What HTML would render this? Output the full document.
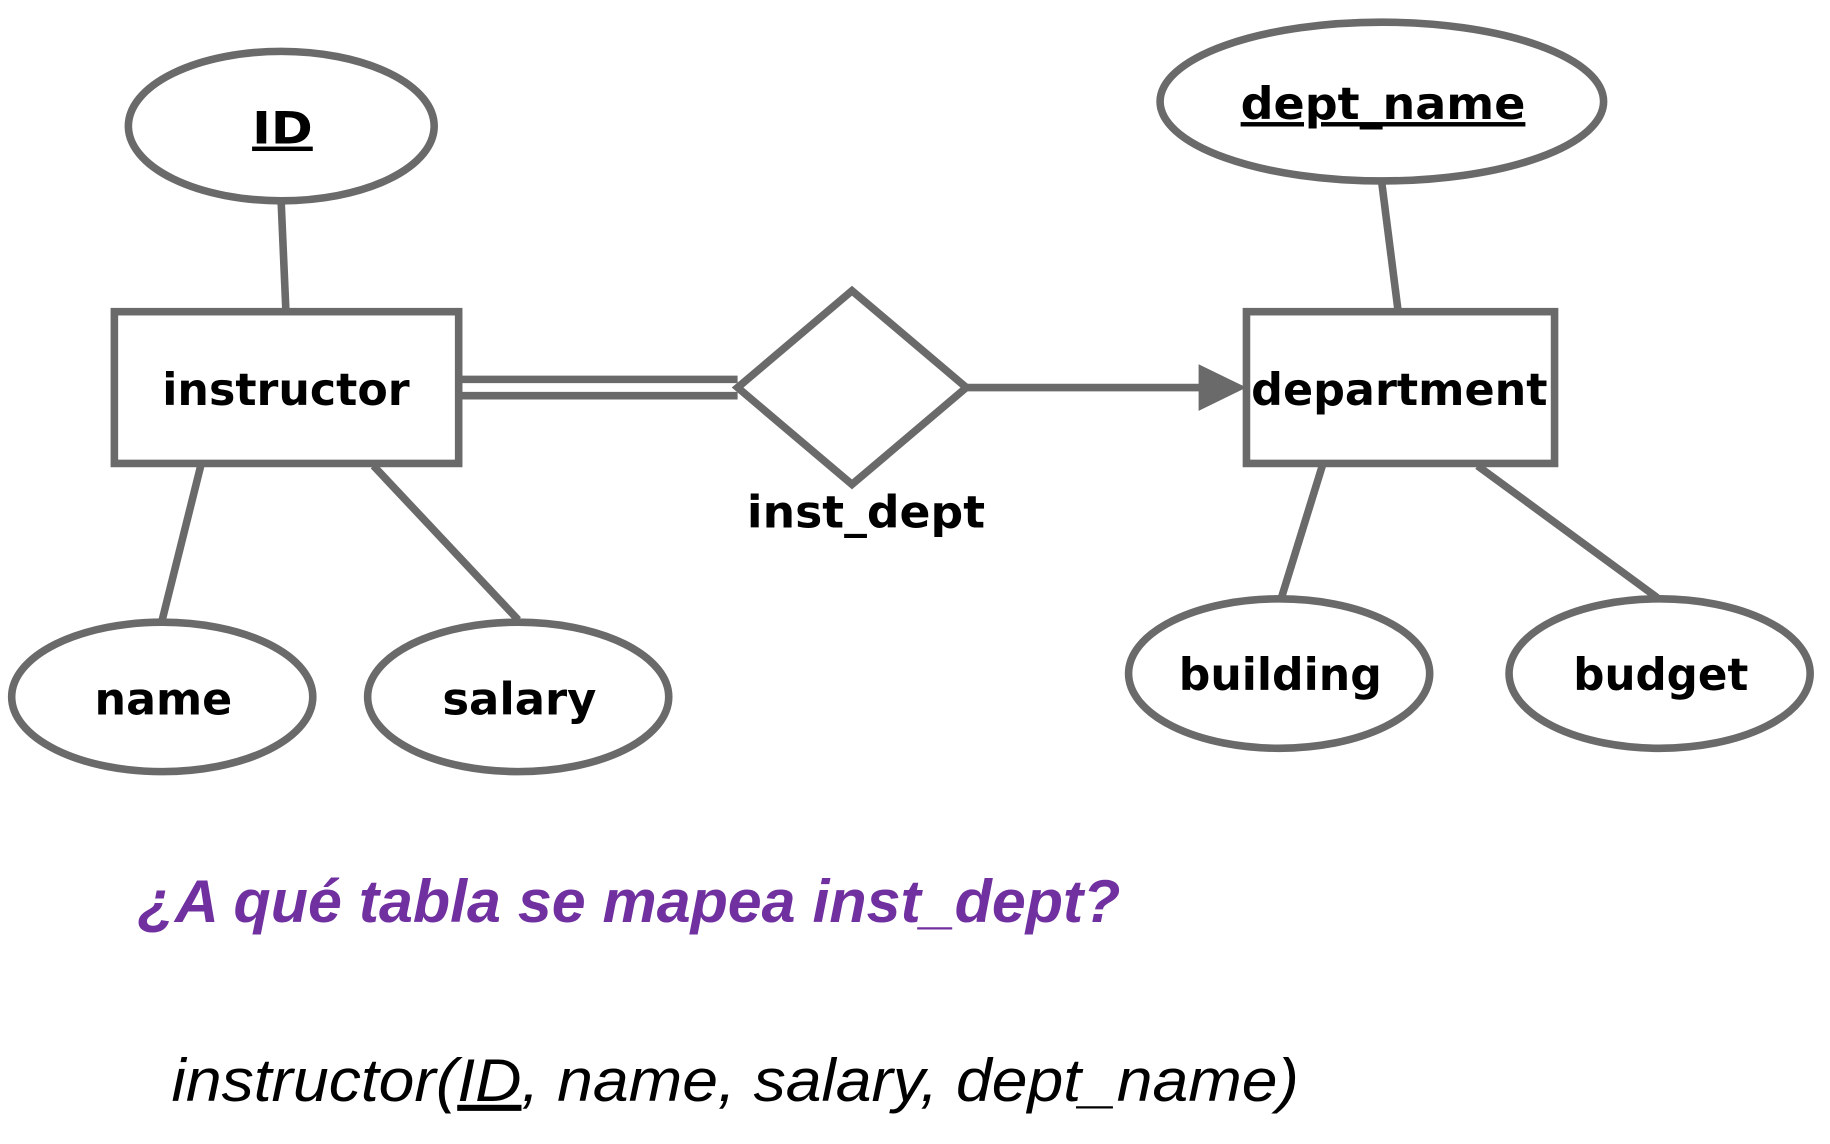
<!DOCTYPE html>
<html><head><meta charset="utf-8"><style>
html,body{margin:0;padding:0;background:#fff;}
svg{display:block;}
</style></head><body>
<svg width="1830" height="1144" viewBox="0 0 1568 980" preserveAspectRatio="none" xmlns="http://www.w3.org/2000/svg">
<g fill="none" stroke="#6a6a6a" stroke-width="6.5">
  <line x1="241" y1="175" x2="245" y2="267"/>
  <line x1="1184" y1="157" x2="1198" y2="267"/>
  <line x1="172" y1="399" x2="139" y2="531"/>
  <line x1="320" y1="399" x2="444" y2="531"/>
  <line x1="1133" y1="399" x2="1098" y2="512"/>
  <line x1="1266" y1="399" x2="1420" y2="512"/>
  <line x1="395" y1="325" x2="632" y2="325"/>
  <line x1="395" y1="339" x2="632" y2="339"/>
  <line x1="828" y1="332" x2="1032" y2="332"/>
  <ellipse cx="241" cy="108" rx="131" ry="64" fill="#fff"/>
  <ellipse cx="1184" cy="87" rx="190" ry="68" fill="#fff"/>
  <ellipse cx="139" cy="597" rx="129" ry="64" fill="#fff"/>
  <ellipse cx="444" cy="597" rx="129" ry="64" fill="#fff"/>
  <ellipse cx="1096" cy="577" rx="129" ry="64" fill="#fff"/>
  <ellipse cx="1422" cy="577" rx="129" ry="64" fill="#fff"/>
  <rect x="98" y="267" width="295" height="130" fill="#fff"/>
  <rect x="1068" y="267" width="264" height="130" fill="#fff"/>
  <polygon points="632,332 730,249 828,332 730,415" fill="#fff"/>
</g>
<polygon points="1027,312 1068,332 1027,352" fill="#6a6a6a"/>
<g font-family="'DejaVu Sans', sans-serif" font-weight="bold" font-size="38" fill="#000" text-anchor="middle">
  <text x="242" y="123" text-decoration="underline" textLength="52" lengthAdjust="spacingAndGlyphs">ID</text>
  <text x="1185" y="102" text-decoration="underline" textLength="244" lengthAdjust="spacingAndGlyphs">dept_name</text>
  <text x="245" y="347" textLength="212" lengthAdjust="spacingAndGlyphs">instructor</text>
  <text x="1199" y="347" textLength="254" lengthAdjust="spacingAndGlyphs">department</text>
  <text x="742" y="452" textLength="204" lengthAdjust="spacingAndGlyphs">inst_dept</text>
  <text x="140" y="612" textLength="118" lengthAdjust="spacingAndGlyphs">name</text>
  <text x="445" y="612" textLength="132" lengthAdjust="spacingAndGlyphs">salary</text>
  <text x="1097" y="591" textLength="174" lengthAdjust="spacingAndGlyphs">building</text>
  <text x="1423" y="591" textLength="150" lengthAdjust="spacingAndGlyphs">budget</text>
</g>
<text x="118" y="790" font-family="'Liberation Sans', sans-serif" font-weight="bold" font-style="italic" font-size="52" fill="#7030a0" textLength="842" lengthAdjust="spacingAndGlyphs">¿A qué tabla se mapea inst_dept?</text>
<text x="147" y="943" font-family="'Liberation Sans', sans-serif" font-style="italic" font-size="52" fill="#000" textLength="966" lengthAdjust="spacingAndGlyphs">instructor(<tspan text-decoration="underline">ID</tspan>, name, salary, dept_name)</text>
</svg>
</body></html>
